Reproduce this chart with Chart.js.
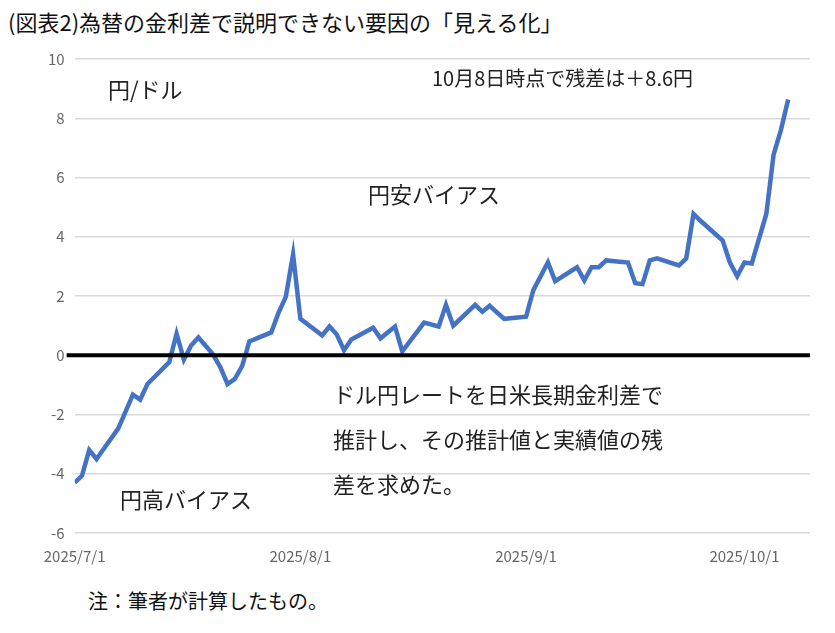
<!DOCTYPE html>
<html><head><meta charset="utf-8">
<script src="https://cdn.jsdelivr.net/npm/chart.js@4"></script>
<style>
body{margin:0;background:#fff;font-family:"Noto Sans CJK JP";}
#title{position:absolute;left:8px;top:5px;font-size:22px;color:#111;}
#note{position:absolute;left:88px;top:586px;font-size:20px;color:#111;}
#wrap{position:absolute;left:0;top:40px;width:835px;height:545px;}
</style></head><body>
<div id="title">(図表2)為替の金利差で説明できない要因の「見える化」</div>
<div id="wrap"><canvas id="c"></canvas></div>
<div id="note">注：筆者が計算したもの。</div>
<script>
// days since 2025/7/1
const days = [0,1,2,3,6,8,9,10,13,14,15,16,17,19,20,21,22,23,24,27,28,29,30,31,34,35,36,37,38,41,42,44,45,48,50,51,52,55,56,57,59,62,63,65,66,69,70,71,72,73,76,77,78,79,80,83,84,85,86,89,90,91,92,93,95,96,97,98];
const resid = [-4.3,-4.07,-3.2,-3.5,-2.47,-1.33,-1.5,-0.97,-0.23,0.73,-0.15,0.33,0.6,0.03,-0.4,-0.97,-0.8,-0.37,0.47,0.77,1.43,1.97,3.4,1.23,0.67,0.97,0.7,0.17,0.53,0.93,0.57,0.97,0.13,1.1,0.97,1.7,1.0,1.7,1.47,1.67,1.23,1.3,2.2,3.13,2.5,2.97,2.53,2.97,2.97,3.2,3.13,2.43,2.4,3.2,3.27,3.03,3.27,4.77,4.53,3.87,3.13,2.67,3.13,3.1,4.77,6.77,7.6,8.63];
const tickDays = [0,31,62,92];
const tickLabels = ['2025/7/1','2025/8/1','2025/9/1','2025/10/1'];

const notes = {
  id:'notes',
  afterDraw(chart){
    const ctx = chart.ctx, y = chart.scales.y, a = chart.chartArea;
    ctx.save();
    ctx.strokeStyle='#000'; ctx.lineWidth=4;
    ctx.beginPath(); ctx.moveTo(a.left-8,y.getPixelForValue(0)); ctx.lineTo(a.right,y.getPixelForValue(0)); ctx.stroke();
    ctx.fillStyle='#222'; ctx.textBaseline='middle';
    ctx.font='22px "Noto Sans CJK JP"';
    const t = [['円/ドル',108,50],['円安バイアス',368,155],['ドル円レートを日米長期金利差で',333,355],['推計し、その推計値と実績値の残',333,400],['差を求めた。',333,445],['円高バイアス',120,460]];
    t.forEach(s=>ctx.fillText(s[0],s[1],s[2]));
    ctx.font='20px "Noto Sans CJK JP"';
    ctx.fillText('10月8日時点で残差は＋8.6円',432,38);
    ctx.restore();
  }
};

new Chart(document.getElementById('c'), {
  type:'line',
  data:{datasets:[{data:days.map((d,i)=>({x:d,y:resid[i]})),borderColor:'#4472C4',borderWidth:4.5,pointRadius:0,tension:0}]},
  options:{
    responsive:true, maintainAspectRatio:false, animation:false,
    layout:{padding:{left:38,right:25,top:4,bottom:14}},
    plugins:{legend:{display:false},tooltip:{enabled:false}},
    scales:{
      x:{type:'linear',min:0,max:101,
        afterBuildTicks:s=>{s.ticks=tickDays.map(v=>({value:v}));},
        ticks:{autoSkip:false,maxRotation:0,color:'#666',padding:6,font:{size:15,family:'Noto Sans CJK JP'},callback:v=>tickLabels[tickDays.indexOf(v)]},
        grid:{display:false},border:{display:false}},
      y:{min:-6,max:10,
        ticks:{stepSize:2,color:'#666',padding:10,font:{size:15,family:'Noto Sans CJK JP'}},
        grid:{color:'#d9d9d9',lineWidth:1.5,drawTicks:false},border:{display:false}}
    }
  },
  plugins:[notes]
});
</script></body></html>
